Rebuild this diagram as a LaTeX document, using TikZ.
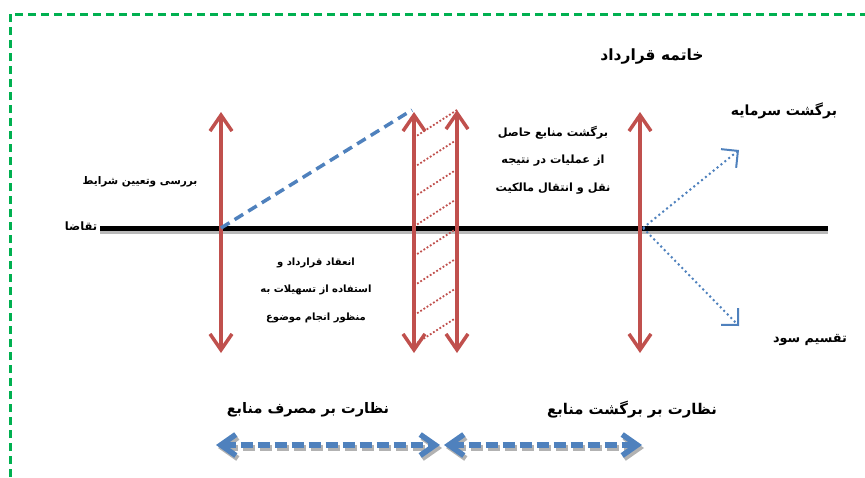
\documentclass[tikz,border=0pt]{standalone}
\usepackage{fontspec}
\usetikzlibrary{arrows.meta, positioning}
\TeXXeTstate=1
\newfontfamily\fafont[Script=Arabic]{DejaVu Sans}
\newcommand{\rl}[1]{\beginR #1\endR}
\definecolor{frameGreen}{HTML}{00B050}
\definecolor{phaseRed}{HTML}{C0504D}
\definecolor{flowBlue}{HTML}{4F81BD}

\begin{document}
\begin{tikzpicture}[
    x=1pt, y=-1pt,
    frame/.style={draw=frameGreen, line width=3pt, dash pattern=on 8pt off 5pt},
    demand/.style={draw=black, line width=5pt},
    shade/.style={draw=gray!55, line width=5pt},
    phase/.style={{Straight Barb[length=16pt,width=22pt]}-{Straight Barb[length=16pt,width=22pt]}, draw=phaseRed, line width=3.5pt},
    hatch/.style={draw=phaseRed, line width=1.8pt, dotted},
    rise/.style={draw=flowBlue, line width=3.5pt, dash pattern=on 10pt off 6pt},
    split/.style={-{Straight Barb[length=12pt,width=24pt]}, draw=flowBlue, line width=2pt, dash pattern=on 2pt off 3pt},
    watch/.style={{Straight Barb[length=15pt,width=21pt]}-{Straight Barb[length=15pt,width=21pt]}, line width=5.5pt, dash pattern=on 12pt off 5pt},
    txt/.style={font=\fafont\bfseries\fontsize{#1}{27.5}\selectfont, align=center, inner sep=1pt},
    txt/.default=10
]
\useasboundingbox (0,0) rectangle (865,477);

% Frame
\coordinate (f_bl) at (10,477);
\coordinate (f_tl) at (10,14);
\coordinate (f_tr) at (865,14);
\draw[frame] (f_bl) -- (f_tl) -- (f_tr);

% Demand line
\coordinate (d_left) at (100,228);
\coordinate (d_right) at (828,228);
\draw[shade, transform canvas={shift={(0pt,-3pt)}}] (d_left) -- (d_right);
\draw[demand] (d_left) -- (d_right);
\node[txt=11.5] (demand_lbl) at (81,226) {\rl{تقاضا}};

% Phase arrows
\coordinate (p1_top) at (221,112);
\coordinate (p1_bot) at (221,353);
\coordinate (p2_top) at (414,112);
\coordinate (p2_bot) at (414,353);
\coordinate (p3_top) at (457,110);
\coordinate (p3_bot) at (457,353);
\coordinate (p4_top) at (640,112);
\coordinate (p4_bot) at (640,353);
\draw[phase] (p1_bot) -- (p1_top);
\draw[phase] (p2_bot) -- (p2_top);
\draw[phase] (p3_bot) -- (p3_top);
\draw[phase] (p4_bot) -- (p4_top);

% Hatching between the two middle arrows
\foreach \k in {0,...,7}
    \draw[hatch] (457,{110+29.6*\k}) -- (415,{137+29.6*\k});

% Rising dashed line
\coordinate (r_start) at (221,228);
\coordinate (r_end) at (412,110);
\draw[rise] (r_start) -- (r_end);

% Split at the end
\coordinate (s_orig) at (643,228);
\coordinate (s_up) at (739,150);
\coordinate (s_down) at (739,326);
\draw[split] (s_orig) -- (s_up);
\draw[split] (s_orig) -- (s_down);

% Labels
\node[txt=10.5] (check_lbl) at (140,182) {\rl{بررسی وتعیین شرایط}};
\node[txt] (contract_lbl) at (316,290) {\rl{انعقاد قرارداد و}\\ \rl{استفاده از تسهیلات به}\\ \rl{منظور انجام موضوع}};
\node[txt=11.3] (return_lbl) at (553,160) {\rl{برگشت منابع حاصل}\\ \rl{از عملیات در نتیجه}\\ \rl{نقل و انتقال مالکیت}};
\node[txt=15.5] (end_lbl) at (652,57) {\rl{خاتمه قرارداد}};
\node[txt=14] (capital_lbl) at (784,111) {\rl{برگشت سرمایه}};
\node[txt=12.8] (profit_lbl) at (810,340) {\rl{تقسیم سود}};

% Supervision arrows
\node[txt=14.5] (use_lbl) at (308,410) {\rl{نظارت بر مصرف منابع}};
\node[txt=14.8] (back_lbl) at (632,410) {\rl{نظارت بر برگشت منابع}};
\coordinate (w1_l) at (216,445);
\coordinate (w1_r) at (440,445);
\coordinate (w2_l) at (444,445);
\coordinate (w2_r) at (642,445);
\draw[watch, draw=gray!60, transform canvas={shift={(2pt,-3pt)}}] (w1_l) -- (w1_r);
\draw[watch, draw=gray!60, transform canvas={shift={(2pt,-3pt)}}] (w2_l) -- (w2_r);
\draw[watch, draw=flowBlue] (w1_l) -- (w1_r);
\draw[watch, draw=flowBlue] (w2_l) -- (w2_r);

\end{tikzpicture}
\end{document}
